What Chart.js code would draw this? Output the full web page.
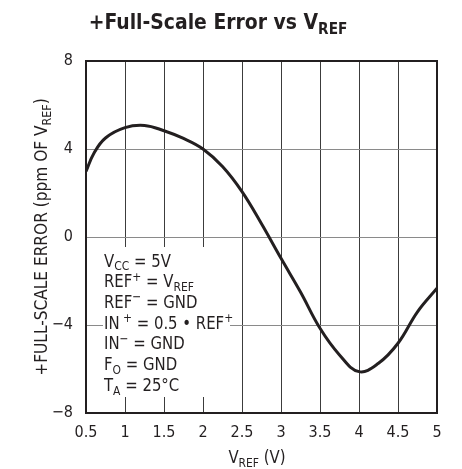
<!DOCTYPE html>
<html>
<head>
<meta charset="utf-8">
<script src="https://cdn.jsdelivr.net/npm/chart.js@4"></script>
<style>
  body { margin: 0; background: #fff; }
  canvas { display: block; }
</style>
</head>
<body>
<canvas id="chart" width="462" height="469"></canvas>
<script>
// values
const vref = [0.5, 0.6, 0.75, 1.0, 1.25, 1.5, 1.75, 2.0, 2.25, 2.5, 2.75, 3.0, 3.25, 3.5, 3.75, 4.0, 4.25, 4.5, 4.75, 5.0];
const fsError = [2.98, 3.8, 4.5, 4.97, 5.07, 4.83, 4.48, 4.0, 3.2, 2.06, 0.6, -0.97, -2.5, -4.15, -5.36, -6.12, -5.74, -4.83, -3.4, -2.33];

const xTicks = [0.5, 1, 1.5, 2, 2.5, 3, 3.5, 4, 4.5, 5];
const yTicks = [-8, -4, 0, 4, 8];

// condition lines, each as [text, "sub"/"sup"/""] pieces
const conditions = [
  [["V", ""], ["CC", "sub"], [" = 5V", ""]],
  [["REF", ""], ["+", "sup"], [" = V", ""], ["REF", "sub"]],
  [["REF", ""], ["\u2212", "sup"], [" = GND", ""]],
  [["IN", ""], [" +", "sup"], [" = 0.5 \u2022 REF", ""], ["+", "sup"]],
  [["IN", ""], ["\u2212", "sup"], [" = GND", ""]],
  [["F", ""], ["O", "sub"], [" = GND", ""]],
  [["T", ""], ["A", "sub"], [" = 25\u00b0C", ""]]
];

const FONT = "'DejaVu Sans Condensed', 'Liberation Sans Narrow', Arial, sans-serif";
const INK = "#231f20";

function fontStr(size, bold) {
  return (bold ? "bold " : "") + size + "px " + FONT;
}

// draws text made of normal / subscript / superscript pieces, squeezed by sx
function drawRich(ctx, pieces, x, y, size, bold, align, sx) {
  const small = Math.round(size * 0.72);
  let total = 0;
  pieces.forEach(([t, m]) => {
    ctx.font = fontStr(m ? small : size, bold);
    total += ctx.measureText(t).width;
  });
  ctx.save();
  ctx.translate(x, y);
  ctx.scale(sx, 1);
  let cx = align === "center" ? -total / 2 : 0;
  pieces.forEach(([t, m]) => {
    ctx.font = fontStr(m ? small : size, bold);
    let dy = 0;
    if (m === "sub") dy = size * 0.22;
    if (m === "sup") dy = -size * 0.36;
    ctx.fillText(t, cx, dy);
    cx += ctx.measureText(t).width;
  });
  ctx.restore();
}

const decorations = {
  id: "decorations",
  beforeDatasetsDraw(chart) {
    const ctx = chart.ctx;
    const a = chart.chartArea;
    ctx.save();
    // white box for the test conditions
    ctx.fillStyle = "#fff";
    ctx.fillRect(a.left + 17, 247, 127, 150);
    ctx.fillStyle = INK;
    ctx.textBaseline = "alphabetic";
    ctx.textAlign = "left";
    conditions.forEach((line, i) => {
      drawRich(ctx, line, a.left + 18, 266.5 + i * 20.7, 18, false, "left", 0.92);
    });
    ctx.restore();
  },
  afterDraw(chart) {
    const ctx = chart.ctx;
    const a = chart.chartArea;
    ctx.save();
    ctx.strokeStyle = INK;
    ctx.lineWidth = 2;
    ctx.strokeRect(a.left, a.top, a.right - a.left, a.bottom - a.top);

    ctx.fillStyle = INK;
    ctx.textBaseline = "alphabetic";
    ctx.textAlign = "left";
    // title
    drawRich(ctx, [["+Full-Scale Error vs V", ""], ["REF", "sub"]], 218, 29, 22, true, "center", 0.95);
    // x axis title
    drawRich(ctx, [["V", ""], ["REF", "sub"], [" (V)", ""]], 257, 463, 18, false, "center", 0.92);
    // y axis title
    ctx.translate(47, (a.top + a.bottom) / 2);
    ctx.rotate(-Math.PI / 2);
    drawRich(ctx, [["+FULL-SCALE ERROR (ppm OF V", ""], ["REF", "sub"], [")", ""]], 0, 0, 18, false, "center", 0.95);
    ctx.restore();
  }
};

const ctx = document.getElementById("chart");

new Chart(ctx, {
  type: "line",
  data: {
    datasets: [
      {
        data: vref.map((v, i) => ({ x: v, y: fsError[i] })),
        borderColor: INK,
        borderWidth: 3,
        pointRadius: 0,
        fill: false,
        tension: 0.4,
      },
    ],
  },
  options: {
    responsive: false,
    animation: false,
    layout: { padding: { left: 0, top: 61, right: 25, bottom: 0 } },
    plugins: {
      legend: { display: false },
      title: { display: false },
      tooltip: { enabled: false },
    },
    scales: {
      x: {
        type: "linear",
        min: 0.5,
        max: 5,
        afterBuildTicks: (s) => { s.ticks = xTicks.map((v) => ({ value: v })); },
        afterFit: (s) => { s.height = 56; },
        ticks: {
          callback: (v) => String(v),
          font: { family: FONT, size: 16 },
          color: INK,
          padding: 10,
          maxRotation: 0,
        },
        grid: { color: "#3c3c3c", lineWidth: 1, drawTicks: false },
        border: { display: false },
      },
      y: {
        min: -8,
        max: 8,
        afterBuildTicks: (s) => { s.ticks = yTicks.map((v) => ({ value: v })); },
        afterFit: (s) => { s.width = 86; },
        ticks: {
          callback: (v) => (v < 0 ? "\u2212" + Math.abs(v) : String(v)),
          font: { family: FONT, size: 16 },
          color: INK,
          padding: 13,
        },
        grid: { color: "#8a8a8a", lineWidth: 1, drawTicks: false },
        border: { display: false },
      },
    },
  },
  plugins: [decorations],
});
</script>
</body>
</html>
